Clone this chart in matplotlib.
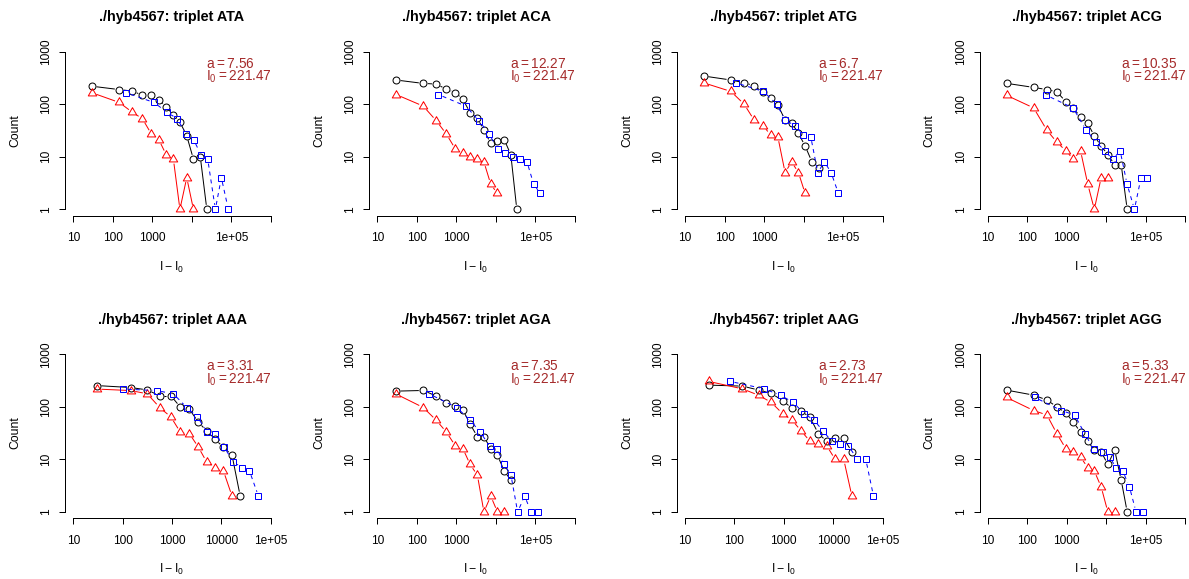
"""Counts vs. I - I0 per triplet, R-style log-log panels"""

import numpy as np
import matplotlib
matplotlib.use("Agg")
import matplotlib.pyplot as plt
from matplotlib.ticker import FixedLocator, NullLocator

plt.rcParams['font.family'] = ['Liberation Sans', 'DejaVu Sans']

# ---- data ----
triplets = ['ATA', 'ACA', 'ATG', 'ACG', 'AAA', 'AGA', 'AAG', 'AGG']
a_values = [7.56, 12.27, 6.7, 10.35, 3.31, 7.35, 2.73, 5.33]
i0_value = 221.47
x_upper = [1e6, 1e6, 1e6, 1e6, 1e5, 1e6, 1e5, 1e6]

# bin positions (I - I0) shared by the black and red series
bins = [30, 146, 315, 562, 950, 1470, 2240, 3420, 5000, 7450, 11000, 16400, 24000, 34000]

# black circles
black_counts = [
    [220, 190, 178, 148, 150, 122, 90, 62, 46, 25, 9, 10, 1],
    [289, 249, 242, 192, 166, 124, 69, 54, 32, 18, 20, 21, 11, 1],
    [344, 289, 257, 225, 168, 133, 97, 50, 44, 28, 16, 8, 6],
    [250, 209, 190, 173, 112, 83, 58, 43, 25, 16, 11, 7, 7, 1],
    [254, 233, 210, 162, 162, 99, 90, 51, 35, 24, 17, 12, 2],
    [199, 205, 160, 116, 104, 87, 47, 27, 27, 16, 12, 6, 4],
    [259, 248, 208, 180, 131, 94, 83, 63, 31, 22, 25, 25, 14],
    [208, 167, 135, 100, 77, 51, 33, 22, 15, 14, 8, 15, 4, 1],
]

# red triangles (the blue squares carry the same counts)
red_counts = [
    [165, 108, 70, 53, 27, 21, 11, 9, 1, 4, 1],
    [153, 92, 48, 27, 14, 12, 10, 9, 8, 3, 2],
    [255, 175, 100, 50, 39, 26, 24, 5, 8, 5, 2],
    [148, 85, 32, 19, 13, 9, 13, 3, 1, 4, 4],
    [218, 204, 177, 97, 64, 33, 31, 17, 9, 7, 6, 2],
    [175, 97, 55, 33, 18, 16, 8, 5, 1, 2, 1, 1],
    [305, 220, 165, 121, 74, 56, 35, 22, 20, 18, 10, 10, 2],
    [151, 85, 70, 31, 16, 14, 11, 7, 6, 3, 1, 1],
]

# blue squares: x positions
blue_x = [
    [221, 1100, 2390, 4265, 7200, 11200, 16900, 25300, 39500, 56000, 84000],
    [353, 1745, 3800, 6820, 11120, 17400, 26700, 40200, 61600, 91000, 134600],
    [196, 966, 2100, 3420, 6120, 9950, 15270, 22970, 33900, 50000, 76700],
    [307, 1445, 3133, 5600, 9080, 14730, 22540, 33800, 51800, 76200, 108000],
    [103, 489, 1064, 1982, 3265, 5200, 7450, 11330, 17500, 25800, 37000, 56200],
    [209, 1032, 2248, 4036, 6970, 10700, 16400, 24200, 35700, 53800, 78000, 115000],
    [82, 406, 869, 1571, 2583, 4120, 6180, 9400, 13870, 20460, 31100, 45900, 65700],
    [156, 734, 1592, 2843, 4797, 8250, 12140, 17860, 26300, 38700, 57000, 84000],
]

# ---- layout (pixels) ----
FIG_W, FIG_H = 1189, 579
col_left = [65.4, 369.4, 677.1, 979.8]
row_top = [45.4, 348.0]
PW, PH = 213.3, 170.2
LW = 0.72      # 1 px
GAP = 4.5      # px gap between line ends and points (R type="b")


def draw_b(ax, xs, ys, color, marker, ms, ls):
    pts = ax.transData.transform(np.column_stack([xs, ys]))
    inv = ax.transData.inverted()
    for p0, p1 in zip(pts[:-1], pts[1:]):
        d = p1 - p0
        dist = np.hypot(d[0], d[1])
        if dist <= 2 * GAP:
            continue
        u = d / dist
        seg = inv.transform(np.array([p0 + u * GAP, p1 - u * GAP]))
        ax.plot(seg[:, 0], seg[:, 1], color=color, lw=LW, ls=ls,
                dashes=(4, 4) if ls == '--' else (None, None),
                solid_capstyle='butt', dash_capstyle='butt')
    ax.plot(xs, ys, ls='none', marker=marker, ms=ms, mfc='none',
            mec=color, mew=LW)


tri = [(0, 1), (0.866, -0.5), (-0.866, -0.5), (0, 1)]

fig = plt.figure(figsize=(FIG_W / 100, FIG_H / 100), dpi=100)

for i, name in enumerate(triplets):
    row, col = divmod(i, 4)
    left = col_left[col] / FIG_W
    bottom = 1 - (row_top[row] + PH) / FIG_H
    ax = fig.add_axes([left, bottom, PW / FIG_W, PH / FIG_H])
    ax.set_xscale('log')
    ax.set_yscale('log')

    hi = x_upper[i]
    span = np.log10(hi) - 1
    ext = 0.04 * span
    ax.set_xlim(10 ** (1 - ext), 10 ** (np.log10(hi) + ext))
    ax.set_ylim(10 ** -0.12, 10 ** 3.12)

    for s in ('top', 'right'):
        ax.spines[s].set_visible(False)
    ax.spines['left'].set_bounds(1, 1000)
    ax.spines['bottom'].set_bounds(10, hi)
    for s in ('left', 'bottom'):
        ax.spines[s].set_linewidth(LW)

    if hi == 1e6:
        xt = [10, 100, 1000, 1e4, 1e5, 1e6]
        xl = ['10', '100', '1000', '', '1e+05', '']
    else:
        xt = [10, 100, 1000, 1e4, 1e5]
        xl = ['10', '100', '1000', '10000', '1e+05']
    ax.xaxis.set_major_locator(FixedLocator(xt))
    ax.xaxis.set_minor_locator(NullLocator())
    ax.set_xticklabels(xl)
    ax.yaxis.set_major_locator(FixedLocator([1, 10, 100, 1000]))
    ax.yaxis.set_minor_locator(NullLocator())
    ax.set_yticklabels(['1', '10', '100', '1000'], rotation=90, va='center')
    ax.tick_params(direction='out', length=4.3, width=LW, labelsize=8.6)
    ax.tick_params(axis='x', pad=7.5)
    ax.tick_params(axis='y', pad=5)

    nb = len(black_counts[i])
    nr = len(red_counts[i])
    draw_b(ax, bins[:nb], black_counts[i], 'black', 'o', 5.0, '-')
    draw_b(ax, bins[:nr], red_counts[i], 'red', tri, 7.0, '-')
    draw_b(ax, blue_x[i], red_counts[i], 'blue', 's', 4.4, '--')

    ax.text(0.5, 1 + 28.4 / PH, './hyb4567: triplet ' + name,
            transform=ax.transAxes, ha='center', va='center',
            fontsize=10.4, fontweight='bold')
    ax.text(0.66, 0.893, r'$\mathregular{a = %s}$' % a_values[i],
            transform=ax.transAxes, ha='left', va='center',
            fontsize=9.8, color='#A52A2A')
    ax.text(0.66, 0.815, r'$\mathregular{I_0 = %s}$' % i0_value,
            transform=ax.transAxes, ha='left', va='center',
            fontsize=9.8, color='#A52A2A')

    ax.set_xlabel(r'$\mathregular{I - I_0}$', fontsize=8.8, va='center')
    ax.xaxis.set_label_coords(0.5, -51.4 / PH)
    ax.set_ylabel('Count', fontsize=8.8, va='center')
    ax.yaxis.set_label_coords(-50 / PW, 0.5)

fig.savefig('out.png', dpi=100)
